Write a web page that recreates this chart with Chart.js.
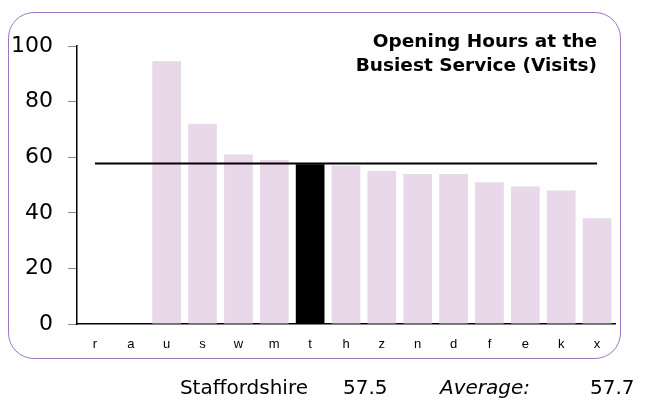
<!DOCTYPE html>
<html>
<head>
<meta charset="utf-8">
<script src="https://cdn.jsdelivr.net/npm/chart.js@4.4.0/dist/chart.umd.min.js"></script>
<style>
  body { margin: 0; background: #fff; }
  #wrap { position: relative; width: 648px; height: 401px; }
  #frame {
    position: absolute; left: 8px; top: 12px; width: 611px; height: 345px;
    border: 1px solid #9a79be; border-radius: 26px; pointer-events: none;
  }
  .foot {
    position: absolute; top: 375px; font-family: "DejaVu Sans", Verdana, sans-serif;
    font-size: 20px; line-height: 24px; color: #000; white-space: nowrap;
  }
</style>
</head>
<body>
<div id="wrap">
  <canvas id="bar-chart" width="648" height="401"></canvas>
  <div id="frame"></div>
  <div class="foot" style="right:340px">Staffordshire</div>
  <div class="foot" style="left:343px">57.5</div>
  <div class="foot" style="left:440px;font-style:italic">Average:</div>
  <div class="foot" style="left:590px">57.7</div>
</div>
<script>
const categories = ['r', 'a', 'u', 's', 'w', 'm', 't', 'h', 'z', 'n', 'd', 'f', 'e', 'k', 'x'];
const hours = [0, 0, 94.5, 72, 61, 59, 57.5, 57, 55, 54, 54, 51, 49.5, 48, 38];
const highlight = 't';
const average = 57.7;
const yTicks = [0, 20, 40, 60, 80, 100];
const titleLines = ['Opening Hours at the', 'Busiest Service (Visits)'];

const barColors = categories.map(c => c === highlight ? '#000000' : '#e9d7ea');

const titlePlugin = {
  id: 'cornerTitle',
  afterDraw(chart) {
    const ctx = chart.ctx;
    ctx.save();
    ctx.font = 'bold 18.5px "DejaVu Sans", Verdana, sans-serif';
    ctx.fillStyle = '#000';
    ctx.textAlign = 'right';
    ctx.textBaseline = 'alphabetic';
    ctx.fillText(titleLines[0], 597, 47);
    ctx.fillText(titleLines[1], 597, 71);
    ctx.restore();
  }
};

const ctx = document.getElementById('bar-chart').getContext('2d');
new Chart(ctx, {
  type: 'bar',
  data: {
    labels: categories,
    datasets: [{
      type: 'line',
      data: categories.map(() => average),
      borderColor: '#000',
      borderWidth: 2,
      pointRadius: 0,
      fill: false,
      order: 0
    }, {
      data: hours,
      backgroundColor: barColors,
      borderWidth: 0,
      barPercentage: 0.8,
      categoryPercentage: 1,
      order: 1
    }]
  },
  options: {
    responsive: false,
    animation: false,
    layout: { padding: { top: 46, right: 33, left: 0, bottom: 0 } },
    plugins: { legend: { display: false }, tooltip: { enabled: false } },
    scales: {
      x: {
        grid: { display: false, drawTicks: false },
        border: { color: '#000', width: 1.5 },
        ticks: {
          color: '#000', padding: 13,
          font: { family: '"Liberation Sans", Arial, sans-serif', size: 13 }
        },
        afterFit(scale) { scale.height = 77; }
      },
      y: {
        min: 0, max: 100,
        afterBuildTicks(scale) { scale.ticks = yTicks.map(v => ({ value: v })); },
        grid: { drawOnChartArea: false, color: '#888', tickLength: 9 },
        border: { color: '#000', width: 1.5 },
        ticks: {
          color: '#000', padding: 15,
          font: { family: '"DejaVu Sans", Verdana, sans-serif', size: 22 }
        },
        afterFit(scale) { scale.width = 77; }
      }
    }
  },
  plugins: [titlePlugin]
});
</script>
</body>
</html>
